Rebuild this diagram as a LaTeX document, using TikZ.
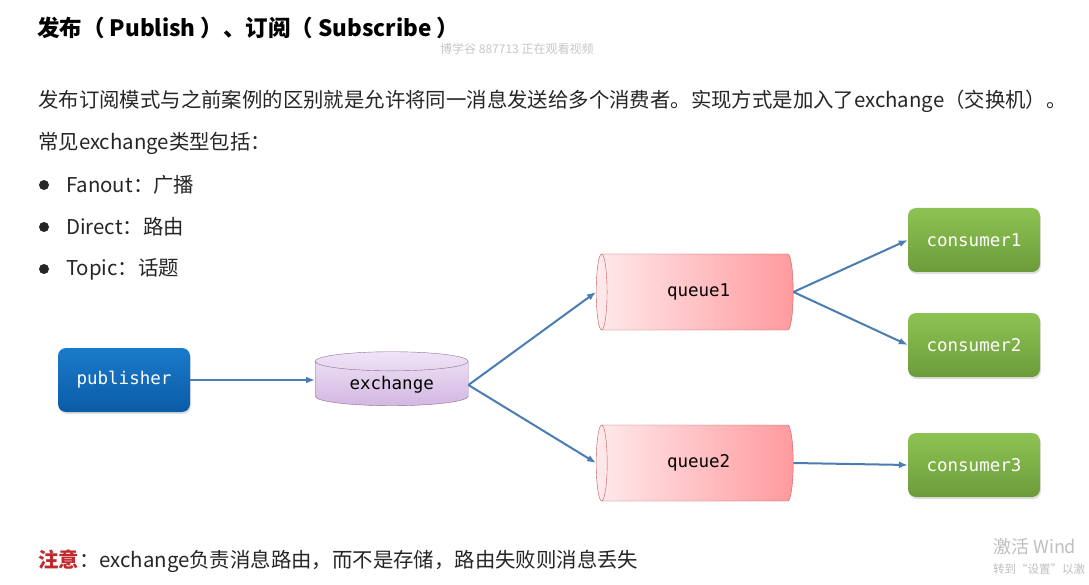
\documentclass[tikz,border=0pt]{standalone}
\usepackage{fontspec}
\setmainfont{Noto Sans CJK SC}
\newfontfamily\boxfont{DejaVu Sans Mono}
\usetikzlibrary{shapes.geometric,arrows.meta,shadows}
\definecolor{linkblue}{HTML}{4A7DB3}
\definecolor{pubtop}{HTML}{1A7BCB}
\definecolor{pubbot}{HTML}{0B5BA6}
\definecolor{contop}{HTML}{8DC353}
\definecolor{conbot}{HTML}{6C9C3A}
\definecolor{qleft}{HTML}{FFEAEC}
\definecolor{qright}{HTML}{FF9A9E}
\definecolor{qline}{HTML}{C25A5E}
\definecolor{extop}{HTML}{F0E4F6}
\definecolor{exbot}{HTML}{D3B7E2}
\definecolor{exline}{HTML}{8C6E9C}
\definecolor{notered}{HTML}{C0282D}

\begin{document}
\begin{tikzpicture}[x=1pt,y=-1pt,
  txt/.style={anchor=west,inner sep=0pt,font=\fontsize{20.4}{24}\selectfont,text=black!85},
  dot/.style={circle,fill=black!85,inner sep=0pt,minimum size=10pt},
  box/.style={rounded corners=8pt,minimum width=132pt,minimum height=64pt,text=white,
    font=\boxfont\fontsize{17.5}{20}\selectfont,
    drop shadow={opacity=0.25,shadow xshift=1pt,shadow yshift=-2pt}},
  pubbox/.style={box,top color=pubtop,bottom color=pubbot},
  conbox/.style={box,top color=contop,bottom color=conbot},
  queue/.style={cylinder,shape border rotate=180,shape aspect=0.47,minimum width=76pt,
    minimum height=197pt,draw=qline,left color=qleft,right color=qright,anchor=west,
    font=\boxfont\fontsize{17.5}{20}\selectfont},
  link/.style={draw=linkblue,line width=2pt,-{Latex[length=9pt,width=7pt]}}]
\fill[white] (0,0) rectangle (1089,585);
\useasboundingbox (0,0) rectangle (1089,585);
% text
\node[anchor=west,inner sep=0pt,font=\bfseries\fontsize{22.5}{26}\selectfont] (title) at (37,28) {发布（ Publish ）、订阅（ Subscribe ）};
\node[anchor=west,inner sep=0pt,text=black!22,font=\fontsize{12}{14}\selectfont] (mark) at (440,49) {博学谷 887713 正在观看视频};
\node[txt] (intro) at (38,101) {发布订阅模式与之前案例的区别就是允许将同一消息发送给多个消费者。实现方式是加入了exchange（交换机）。};
\node[txt] (kinds) at (38,143) {常见exchange类型包括：};
\node[dot] (b1) at (44,185) {};
\node[dot] (b2) at (44,227) {};
\node[dot] (b3) at (44,269) {};
\node[txt] (fanout) at (66,185) {Fanout：广播};
\node[txt] (direct) at (66,227) {Direct：路由};
\node[txt] (topic) at (66,269) {Topic：话题};
\node[txt] (note) at (38,561) {\textcolor{notered}{\bfseries 注意}：exchange负责消息路由，而不是存储，路由失败则消息丢失};
\node[anchor=west,inner sep=0pt,text=black!25,font=\fontsize{18}{20}\selectfont] (win1) at (993,547) {激活 Wind};
\node[anchor=west,inner sep=0pt,text=black!25,font=\fontsize{11.5}{14}\selectfont] (win2) at (993,569) {转到“设置”以激};
% diagram
\node[pubbox] (publisher) at (124,380) {publisher};
\node[cylinder,shape border rotate=90,shape aspect=0.21,minimum width=153pt,minimum height=54pt,anchor=west,
  draw=exline,top color=extop,bottom color=exbot,font=\boxfont\fontsize{17.5}{20}\selectfont] (exchange) at (315,385) {exchange};
\node[queue] (queue1) at (596,292) {queue1};
\node[queue] (queue2) at (596,463) {queue2};
\node[conbox] (consumer1) at (974,240) {consumer1};
\node[conbox] (consumer2) at (974,345) {consumer2};
\node[conbox] (consumer3) at (974,465) {consumer3};
\draw[link] (publisher.east) -- (publisher.east -| exchange.west);
\draw[link] (exchange.east) -- (queue1.west);
\draw[link] (exchange.east) -- (queue2.west);
\draw[link] (queue1.east) -- (consumer1.west);
\draw[link] (queue1.east) -- (consumer2.west);
\draw[link] (queue2.east) -- (consumer3.west);
\end{tikzpicture}
\end{document}
